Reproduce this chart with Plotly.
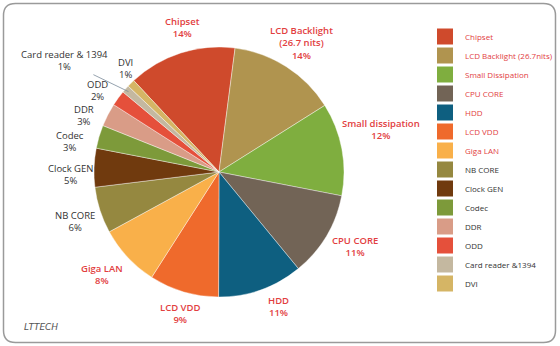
import math
import plotly.graph_objects as go

categories = ["Chipset", "LCD Backlight (26.7 nits)", "Small dissipation", "CPU CORE", "HDD",
              "LCD VDD", "Giga LAN", "NB CORE", "Clock GEN", "Codec", "DDR", "ODD",
              "Card reader & 1394", "DVI"]
slice_labels = ["Chipset", "LCD Backlight<br>(26.7 nits)", "Small dissipation", "CPU CORE", "HDD",
                "LCD VDD", "Giga LAN", "NB CORE", "Clock GEN", "Codec", "DDR", "ODD",
                "Card reader & 1394", "DVI"]
legend_labels = ["Chipset", "LCD Backlight (26.7nits)", "Small Dissipation", "CPU CORE", "HDD",
                 "LCD VDD", "Giga LAN", "NB CORE", "Clock GEN", "Codec", "DDR", "ODD",
                 "Card reader &1394", "DVI"]
values = [14, 14, 12, 11, 11, 9, 8, 6, 5, 3, 3, 2, 1, 1]
colors = ["#cf4a2c", "#b0944f", "#7fae3f", "#726456", "#0e5f80", "#ef6a2c", "#f9b04a",
          "#958840", "#703a0e", "#7d9a3a", "#d99c87", "#e5503b", "#c4b8a0", "#d5b565"]
highlight = [True] * 7 + [False] * 7

RED = "#e2403f"
DARK = "#333333"

W, H = 560, 346
CX, CY, R = 219, 172, 125          # pie centre / radius in pixels
ROT = -43                          # start angle of first slice (deg, clockwise from top)

label_dist = [152, 153, 165, 158, 143, 147, 160, 151, 149, 155, 152, 151, None, 133]
label_nudge = [(10, 0), (0, 0), (0, -12), (0, -6), (12, 0), (3, 0), (0, -7), (0, 3),
               (0, 8), (0, 13), (0, 13), (0, 8), None, (0, -9)]

fig = go.Figure()
fig.add_trace(go.Pie(
    labels=categories, values=values,
    marker=dict(colors=colors, line=dict(color="white", width=0.4)),
    sort=False, direction="clockwise", rotation=ROT,
    textinfo="none", showlegend=False, hoverinfo="label+value",
    domain=dict(x=[(CX - R) / W, (CX + R) / W], y=[1 - (CY + R) / H, 1 - (CY - R) / H]),
))

for name, col, h in zip(legend_labels, colors, highlight):
    fig.add_trace(go.Scatter(
        x=[None], y=[None], mode="markers",
        name=f"<span style='color:{RED if h else DARK}'>{name}</span>",
        marker=dict(symbol="square", size=16, color=col),
        showlegend=True,
    ))

annotations = []
total = sum(values)
start = ROT
for i, (lab, v, h) in enumerate(zip(slice_labels, values, highlight)):
    span = 360 * v / total
    mid = math.radians(start + span / 2)
    start += span
    sx, sy = math.sin(mid), -math.cos(mid)
    font = dict(family="Open Sans", size=9.5, color=RED if h else DARK,
                weight=600 if h else 400)
    text = f"{lab}<br>{v}%"
    if label_dist[i] is None:
        px_, py_ = CX + (R - 4) * sx, CY + (R - 4) * sy
        annotations.append(dict(
            text=text, x=px_ / W, y=1 - py_ / H, xref="paper", yref="paper",
            ax=-64, ay=-31, showarrow=True, arrowhead=0, arrowwidth=0.8,
            arrowcolor="#7a8a99", font=font, align="center"))
        continue
    d = label_dist[i]
    nx, ny = label_nudge[i]
    lx, ly = CX + d * sx + nx, CY + d * sy + ny
    annotations.append(dict(text=text, x=lx / W, y=1 - ly / H, xref="paper", yref="paper",
                            xanchor="center", yanchor="middle", showarrow=False,
                            font=font, align="center"))

annotations.append(dict(text="<i>LTTECH</i>", x=22 / W, y=1 - 327 / H, xref="paper", yref="paper",
                        xanchor="left", yanchor="middle", showarrow=False,
                        font=dict(family="DejaVu Sans", size=9, color="#555555")))

# rounded page frame
x0, x1, y0, y1, r = 3.5, 555.5, 3.5, 342.5, 12
def px(x): return x / W
def py(y): return 1 - y / H
path = (f"M {px(x0+r):.5f},{py(y0):.5f} L {px(x1-r):.5f},{py(y0):.5f} "
        f"Q {px(x1):.5f},{py(y0):.5f} {px(x1):.5f},{py(y0+r):.5f} "
        f"L {px(x1):.5f},{py(y1-r):.5f} Q {px(x1):.5f},{py(y1):.5f} {px(x1-r):.5f},{py(y1):.5f} "
        f"L {px(x0+r):.5f},{py(y1):.5f} Q {px(x0):.5f},{py(y1):.5f} {px(x0):.5f},{py(y1-r):.5f} "
        f"L {px(x0):.5f},{py(y0+r):.5f} Q {px(x0):.5f},{py(y0):.5f} {px(x0+r):.5f},{py(y0):.5f} Z")

fig.update_layout(
    width=W, height=H, margin=dict(l=0, r=0, t=0, b=0),
    paper_bgcolor="white", plot_bgcolor="rgba(0,0,0,0)",
    xaxis=dict(visible=False), yaxis=dict(visible=False),
    legend=dict(x=425 / W, y=1 - 22 / H, xanchor="left", yanchor="top",
                font=dict(family="Open Sans", size=8, color=DARK),
                itemsizing="trace", bgcolor="rgba(0,0,0,0)"),
    shapes=[dict(type="path", path=path, xref="paper", yref="paper", layer="above",
                 line=dict(color="#9a9a9a", width=1.5))],
    annotations=annotations,
)
fig.write_html("out.html")
